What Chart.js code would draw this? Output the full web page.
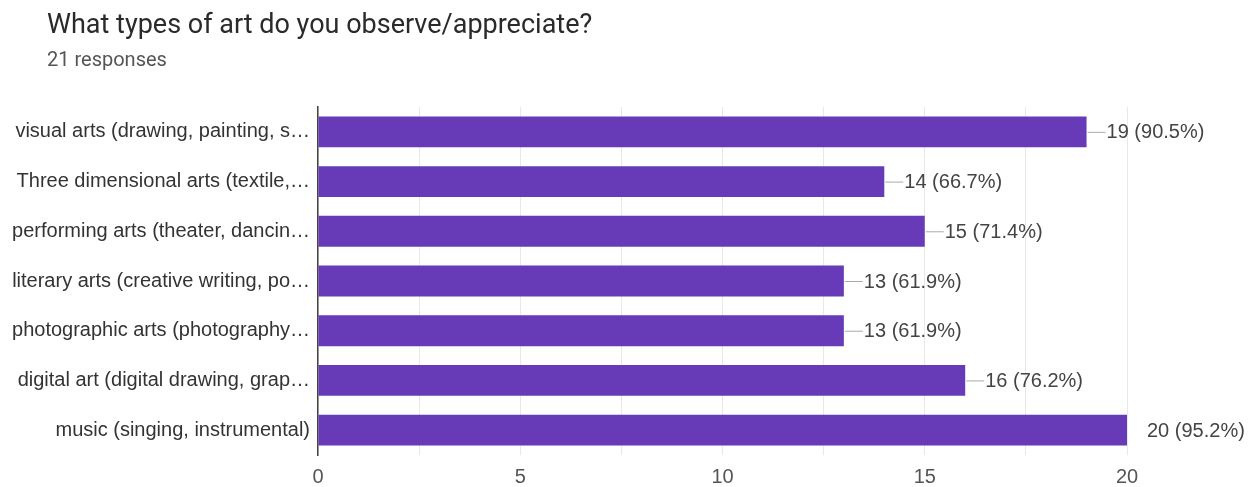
<!DOCTYPE html>
<html>
<head>
<meta charset="utf-8">
<script src="https://cdn.jsdelivr.net/npm/chart.js@4.4.1/dist/chart.umd.min.js"></script>
<style>
  html, body { margin: 0; padding: 0; background: #fff; }
  #wrap { position: relative; width: 1256px; height: 487px; }
  #title { position: absolute; left: 47px; top: 8px; font: 27px Roboto, Arial, sans-serif; color: #2a2a2a; white-space: nowrap; }
  #sub { position: absolute; left: 47px; top: 47px; font: 20px Roboto, Arial, sans-serif; color: #555; white-space: nowrap; }
</style>
</head>
<body>
<div id="wrap">
  <canvas id="myBarChart" width="1256" height="487"></canvas>
  <div id="title">What types of art do you observe/appreciate?</div>
  <div id="sub">21 responses</div>
</div>
<script>
const categorias = [
  'visual arts (drawing, painting, s…',
  'Three dimensional arts (textile,…',
  'performing arts (theater, dancin…',
  'literary arts (creative writing, po…',
  'photographic arts (photography…',
  'digital art (digital drawing, grap…',
  'music (singing, instrumental)'
];
const respostas = [19, 14, 15, 13, 13, 16, 20];
const porcentagens = ['90.5%', '66.7%', '71.4%', '61.9%', '61.9%', '76.2%', '95.2%'];
const ticksX = [0, 5, 10, 15, 20];

const familia = '"Liberation Sans", Arial, sans-serif';
const labelFont = '20px ' + familia;

// desenha "valor (pct)" ao lado de cada barra
const valorLabels = {
  id: 'valorLabels',
  afterDatasetsDraw(chart) {
    const ctx = chart.ctx;
    const meta = chart.getDatasetMeta(0);
    const maxX = chart.scales.x.max;
    ctx.save();
    ctx.font = labelFont;
    ctx.textBaseline = 'middle';
    ctx.textAlign = 'left';
    meta.data.forEach((bar, i) => {
      const v = respostas[i];
      if (v < maxX) {
        ctx.strokeStyle = '#aaa';
        ctx.lineWidth = 1;
        ctx.beginPath();
        ctx.moveTo(bar.x + 1, bar.y + 0.5);
        ctx.lineTo(bar.x + 19, bar.y + 0.5);
        ctx.stroke();
      }
      ctx.fillStyle = '#444';
      ctx.fillText(v + ' (' + porcentagens[i] + ')', bar.x + 20, bar.y + 1);
    });
    ctx.restore();
  }
};

var ctx = document.getElementById('myBarChart').getContext('2d');
var myBarChart = new Chart(ctx, {
  type: 'bar',
  data: {
    labels: categorias,
    datasets: [{
      data: respostas,
      backgroundColor: '#673ab7',
      borderWidth: 0,
      barPercentage: 0.62,
      categoryPercentage: 1
    }]
  },
  options: {
    indexAxis: 'y',
    responsive: false,
    animation: false,
    layout: { padding: { left: 0, top: 107, right: 129, bottom: 0 } },
    plugins: { legend: { display: false }, tooltip: { enabled: false } },
    scales: {
      x: {
        min: 0,
        max: 20,
        ticks: {
          stepSize: 2.5,
          padding: 10,
          color: '#555',
          font: { size: 20, family: familia },
          callback: v => ticksX.includes(v) ? v : ''
        },
        grid: { color: '#e8e8e8', drawTicks: false },
        border: { display: false },
        afterFit: s => { s.height = 32; }
      },
      y: {
        ticks: {
          padding: 0,
          color: '#333',
          font: { size: 20, family: familia }
        },
        grid: { display: false },
        border: { display: true, color: '#444', width: 1.5 },
        afterFit: s => { s.width = 318; }
      }
    }
  },
  plugins: [valorLabels]
});
</script>
</body>
</html>
